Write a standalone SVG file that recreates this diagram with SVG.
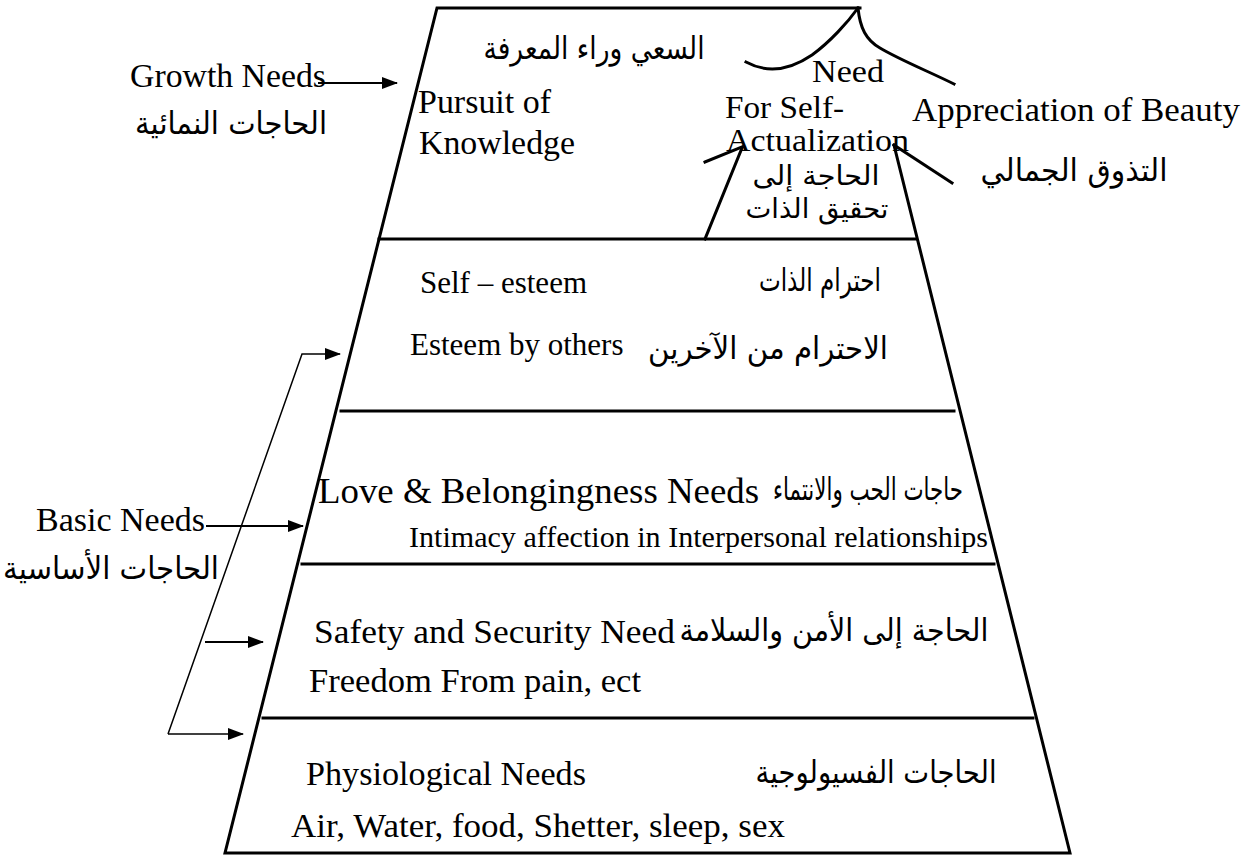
<svg xmlns="http://www.w3.org/2000/svg" width="1249" height="855" viewBox="0 0 1249 855">
<defs>
<marker id="ah" markerWidth="16" markerHeight="12" refX="15" refY="6" orient="auto" markerUnits="userSpaceOnUse"><path d="M0,0 L16,6 L0,12 z" fill="#000"/></marker>
<style>
.en{font-family:"Liberation Serif","Times New Roman",serif;fill:#000;font-size:34px}
.ar{font-family:"DejaVu Sans","Noto Sans",sans-serif;fill:#000;font-size:31px}
.edge{stroke:#000;stroke-width:3;fill:none;stroke-linecap:square;stroke-linejoin:miter}
.arr{stroke:#000;stroke-width:2;fill:none}
.thin{stroke:#000;stroke-width:1.5;fill:none}
</style>
</defs>
<rect width="1249" height="855" fill="#fff"/>
<g id="outline" class="edge">
<path d="M894,145 L1070,853 L225,853 L437,8 L860,8"/>
<path d="M379,239 L916,239"/>
<path d="M341,411 L954,411"/>
<path d="M302,564 L994,564"/>
<path d="M263,718 L1033,718"/>
<path d="M746,62 C768,74 790,70 812,55 C830,42 848,22 858,8"/>
<path d="M858,8 C860,28 866,40 880,48 C900,60 930,72 954,84"/>
<path d="M705,162 L742,147"/>
<path d="M742,148 L705,239"/>
<path d="M894,145 L952,183"/>
</g>
<g id="growth-label">
<text class="en" x="130" y="87" textLength="196" lengthAdjust="spacingAndGlyphs">Growth Needs</text>
<text class="ar" x="231" y="134" text-anchor="middle" direction="rtl" textLength="192" lengthAdjust="spacingAndGlyphs">الحاجات النمائية</text>
</g>
<g id="level-self-actualization">
<text class="ar" x="594" y="59" text-anchor="middle" direction="rtl" textLength="221" lengthAdjust="spacingAndGlyphs">السعي وراء المعرفة</text>
<text class="en" x="418" y="113" textLength="133" lengthAdjust="spacingAndGlyphs">Pursuit of</text>
<text class="en" x="419" y="154" textLength="156" lengthAdjust="spacingAndGlyphs">Knowledge</text>
<text class="en" x="812" y="82" textLength="72" lengthAdjust="spacingAndGlyphs" style="font-size:32px">Need</text>
<text class="en" x="725" y="118" textLength="119" lengthAdjust="spacingAndGlyphs" style="font-size:32px">For Self-</text>
<text class="en" x="726" y="151" textLength="183" lengthAdjust="spacingAndGlyphs" style="font-size:32px">Actualization</text>
<text class="ar" x="816" y="185" text-anchor="middle" direction="rtl" textLength="127" lengthAdjust="spacingAndGlyphs" style="font-size:27px">الحاجة إلى</text>
<text class="ar" x="817" y="218" text-anchor="middle" direction="rtl" textLength="143" lengthAdjust="spacingAndGlyphs" style="font-size:27px">تحقيق الذات</text>
</g>
<g id="beauty-label">
<text class="en" x="912" y="121" textLength="328" lengthAdjust="spacingAndGlyphs">Appreciation of Beauty</text>
<text class="ar" x="1074" y="181" text-anchor="middle" direction="rtl" textLength="187" lengthAdjust="spacingAndGlyphs">التذوق الجمالي</text>
</g>
<g id="level-esteem">
<text class="en" x="420" y="293" style="font-size:31px">Self – esteem</text>
<text class="ar" x="820" y="291" text-anchor="middle" direction="rtl" textLength="122" lengthAdjust="spacingAndGlyphs">احترام الذات</text>
<text class="en" x="410" y="355" style="font-size:31px">Esteem by others</text>
<text class="ar" x="768" y="359" text-anchor="middle" direction="rtl" textLength="240" lengthAdjust="spacingAndGlyphs">الاحترام من الآخرين</text>
</g>
<g id="level-love">
<text class="en" x="318" y="503" textLength="441" lengthAdjust="spacingAndGlyphs" style="font-size:35px">Love &amp; Belongingness Needs</text>
<text class="ar" x="868" y="500" text-anchor="middle" direction="rtl" textLength="190" lengthAdjust="spacingAndGlyphs">حاجات الحب والانتماء</text>
<text class="en" x="409" y="547" textLength="579" lengthAdjust="spacingAndGlyphs" style="font-size:30px">Intimacy affection in Interpersonal relationships</text>
</g>
<g id="level-safety">
<text class="en" x="314" y="643" textLength="361" lengthAdjust="spacingAndGlyphs">Safety and Security Need</text>
<text class="ar" x="834" y="641" text-anchor="middle" direction="rtl" textLength="309" lengthAdjust="spacingAndGlyphs">الحاجة إلى الأمن والسلامة</text>
<text class="en" x="309" y="692" textLength="332" lengthAdjust="spacingAndGlyphs">Freedom From pain, ect</text>
</g>
<g id="level-physiological">
<text class="en" x="306" y="785" textLength="280" lengthAdjust="spacingAndGlyphs">Physiological Needs</text>
<text class="ar" x="876" y="783" text-anchor="middle" direction="rtl" textLength="241" lengthAdjust="spacingAndGlyphs">الحاجات الفسيولوجية</text>
<text class="en" x="291" y="837" textLength="494" lengthAdjust="spacingAndGlyphs">Air, Water, food, Shetter, sleep, sex</text>
</g>
<g id="basic-label">
<text class="en" x="205" y="531" text-anchor="end">Basic Needs</text>
<text class="ar" x="111" y="579" text-anchor="middle" direction="rtl" textLength="216" lengthAdjust="spacingAndGlyphs">الحاجات الأساسية</text>
</g>
<g id="connectors">
<path class="arr" d="M318,83 L397,83" marker-end="url(#ah)"/>
<path class="thin" d="M168,734 L302,354 L340,354" marker-end="url(#ah)"/>
<path class="thin" d="M168,734 L243,734" marker-end="url(#ah)"/>
<path class="arr" d="M206,526 L303,526" marker-end="url(#ah)"/>
<path class="arr" d="M205,642 L263,642" marker-end="url(#ah)"/>
</g>
</svg>
